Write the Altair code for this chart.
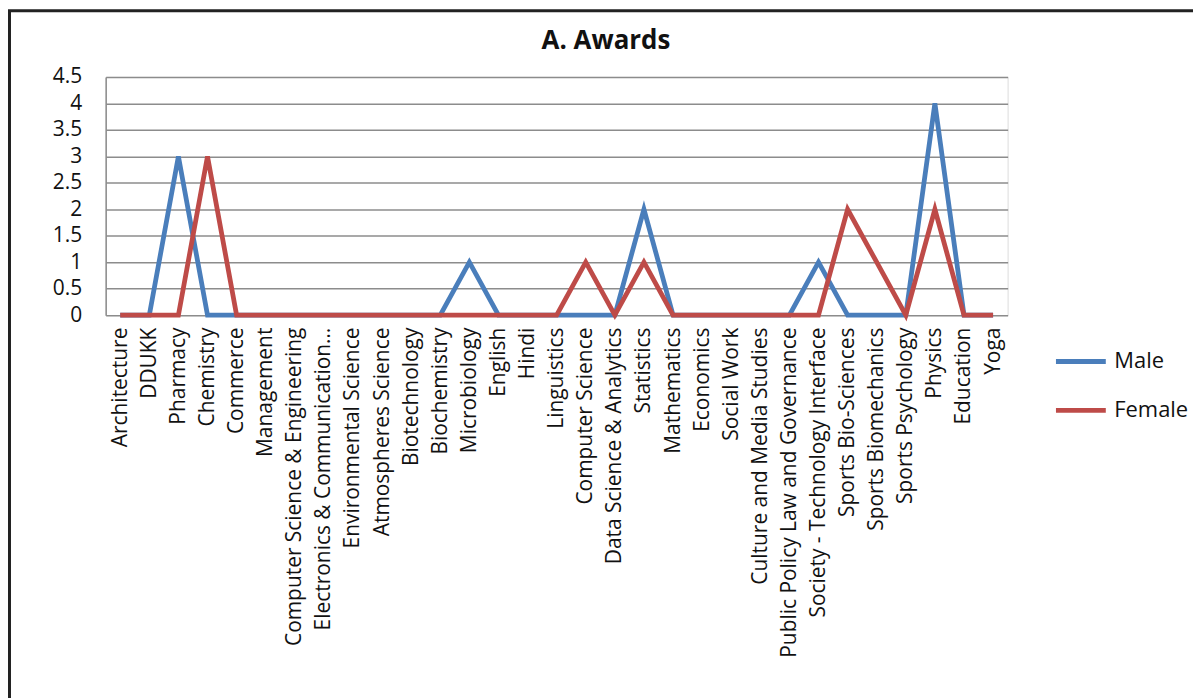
import altair as alt
import pandas as pd

categories = [
    "Architecture", "DDUKK", "Pharmacy", "Chemistry", "Commerce", "Management",
    "Computer Science & Engineering", "Electronics & Communication…",
    "Environmental Science", "Atmospheres Science", "Biotechnology", "Biochemistry",
    "Microbiology", "English", "Hindi", "Linguistics", "Computer Science",
    "Data Science & Analytics", "Statistics", "Mathematics", "Economics",
    "Social Work", "Culture and Media Studies", "Public Policy Law and Governance",
    "Society - Technology Interface", "Sports Bio-Sciences", "Sports Biomechanics",
    "Sports Psychology", "Physics", "Education", "Yoga",
]
male = [0, 0, 3, 0, 0, 0, 0, 0, 0, 0, 0, 0, 1, 0, 0, 0, 0, 0, 2, 0, 0, 0, 0, 0, 1, 0, 0, 0, 4, 0, 0]
female = [0, 0, 0, 3, 0, 0, 0, 0, 0, 0, 0, 0, 0, 0, 0, 0, 1, 0, 1, 0, 0, 0, 0, 0, 0, 2, 1, 0, 2, 0, 0]
series = ["Male", "Female"]
colors = ["#4a7ebb", "#be4b48"]
y_ticks = [0, 0.5, 1, 1.5, 2, 2.5, 3, 3.5, 4, 4.5]
title_text = "A. Awards"

rows = []
for s, vals in zip(series, [male, female]):
    for c, v in zip(categories, vals):
        rows.append({"Department": c, "Gender": s, "Awards": v})
df = pd.DataFrame(rows)

FONT = "Open Sans"
TXT = "#111111"

lines = alt.Chart(df).mark_line(strokeWidth=4.8).encode(
    x=alt.X("Department:N", sort=categories, scale=alt.Scale(type="point", padding=0.5),
            axis=alt.Axis(title=None, labelAngle=-90, ticks=False, domain=False, grid=False,
                          labelFont=FONT, labelFontSize=21, labelColor=TXT,
                          labelPadding=12, labelLimit=400)),
    y=alt.Y("Awards:Q", scale=alt.Scale(domain=[0, 4.5], nice=False),
            axis=alt.Axis(title=None, values=y_ticks, ticks=False, domain=True,
                          domainColor="#8c8c8c", domainWidth=1.5,
                          grid=True, gridColor="#8c8c8c", gridWidth=1.5,
                          labelFont=FONT, labelFontSize=21, labelColor=TXT,
                          labelPadding=24,
                          labelExpr="datum.value == 0 ? '0' : format(datum.value, '.2~f')")),
    color=alt.Color("Gender:N", sort=series,
                    scale=alt.Scale(domain=series, range=colors),
                    legend=alt.Legend(title=None, orient="none", legendX=951, legendY=258,
                                      symbolType="stroke", symbolSize=2500,
                                      symbolStrokeWidth=4.8, labelFont=FONT,
                                      labelFontSize=22, labelColor=TXT,
                                      labelOffset=6, rowPadding=10, padding=0)),
    order=alt.Order("Gender:N", sort="descending"),
)

frame = alt.Chart(pd.DataFrame({"f": [0]})).mark_rect(
    filled=False, stroke="#222222", strokeWidth=3, clip=False
).encode(x=alt.value(-96.5), x2=alt.value(1200), y=alt.value(-66.5), y2=alt.value(700))

title = alt.Chart(pd.DataFrame({"t": [title_text]})).mark_text(
    font=FONT, fontSize=26, fontWeight="bold", color=TXT, align="center", baseline="middle"
).encode(text="t:N", x=alt.value(502), y=alt.value(-36))

chart = alt.layer(frame, lines, title).properties(
    width=905, height=239,
    padding={"left": 98, "top": 68, "right": 186, "bottom": 393},
    autosize=alt.AutoSizeParams(type="none"),
).configure_view(stroke=None).configure(background="white")

chart.save("out.html", embed_options={"renderer": "svg", "actions": False})
